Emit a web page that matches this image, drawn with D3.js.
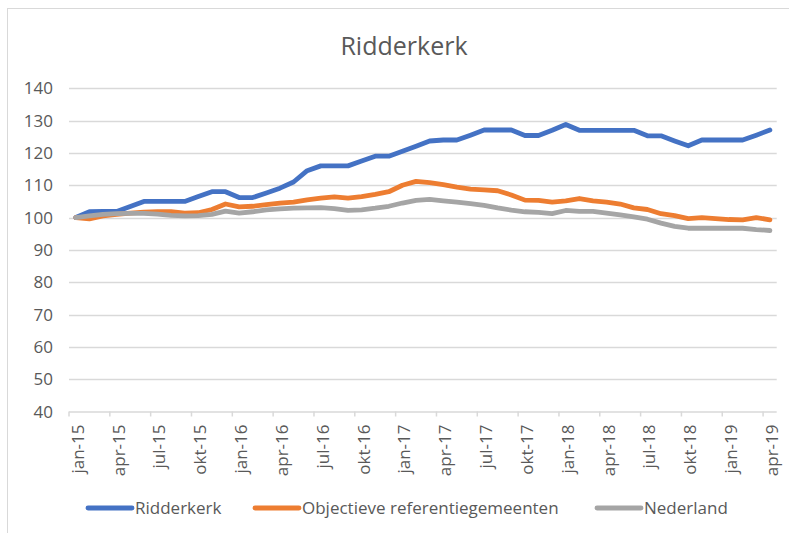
<!DOCTYPE html>
<html>
<head>
<meta charset="utf-8">
<script src="https://cdn.jsdelivr.net/npm/d3@7"></script>
<style>
  html, body { margin: 0; padding: 0; background: #ffffff; }
  svg { display: block; font-family: "Open Sans", "Noto Sans", sans-serif; }
</style>
</head>
<body>
<svg id="chart" width="789" height="533"></svg>
<script>
// Month labels, jan-15 through apr-19
const monthNames = ["jan", "feb", "mrt", "apr", "mei", "jun", "jul", "aug", "sep", "okt", "nov", "dec"];
const years = ["15", "16", "17", "18", "19"];
const categories = [];
years.forEach(y => monthNames.forEach(m => categories.push(m + "-" + y)));
categories.length = 52;

// Index values (jan-15 = 100)
const ridderkerk = [
  100, 101.8, 101.9, 101.9, 103.4, 105, 105, 105, 105, 106.5,
  108, 108, 106.2, 106.2, 107.6, 109.1, 111, 114.5, 116, 116,
  116, 117.5, 119, 119, 120.5, 122.1, 123.7, 124, 124, 125.5,
  127.1, 127.1, 127.1, 125.4, 125.4, 127, 128.8, 127, 127, 127,
  127, 127, 125.3, 125.3, 123.7, 122.2, 124, 124, 124, 124,
  125.5, 127.1
];
const referentie = [
  100, 99.6, 100.5, 101, 101.4, 101.7, 101.8, 101.8, 101.4, 101.5,
  102.5, 104.2, 103.3, 103.5, 104, 104.5, 104.8, 105.5, 106, 106.4,
  106, 106.5, 107.2, 108, 110, 111.2, 110.8, 110.2, 109.4, 108.8,
  108.6, 108.3, 107, 105.4, 105.3, 104.8, 105.2, 105.9, 105.2, 104.8,
  104.2, 103, 102.5, 101.2, 100.6, 99.7, 100, 99.7, 99.4, 99.3,
  100, 99.3
];
const nederland = [
  100, 100.5, 101, 101.2, 101.3, 101.3, 101.1, 100.7, 100.5, 100.6,
  101, 102, 101.4, 101.8, 102.4, 102.7, 102.9, 103, 103.1, 102.8,
  102.2, 102.4, 102.9, 103.5, 104.5, 105.3, 105.6, 105.2, 104.8, 104.3,
  103.8, 103, 102.3, 101.8, 101.6, 101.2, 102.2, 101.9, 101.9, 101.4,
  100.8, 100.2, 99.5, 98.3, 97.3, 96.7, 96.7, 96.7, 96.7, 96.7,
  96.3, 96
];
const seriesNames = ["Ridderkerk", "Objectieve referentiegemeenten", "Nederland"];
const seriesColors = ["#4472C4", "#ED7D31", "#A5A5A5"];
const yTicks = [40, 50, 60, 70, 80, 90, 100, 110, 120, 130, 140];
const xTickLabels = categories.filter((c, i) => i % 3 === 0);

const series = [ridderkerk, referentie, nederland];

const svg = d3.select("#chart");
const textColor = "#595959";
const gridColor = "#D9D9D9";

// Outer chart frame
svg.append("rect")
  .attr("x", 7.5).attr("y", 8.5)
  .attr("width", 900).attr("height", 700)
  .attr("fill", "#ffffff")
  .attr("stroke", gridColor).attr("stroke-width", 1);

const plot = { left: 69, right: 776.7, top: 88.3, bottom: 411.5 };

const x = d3.scaleBand().domain(categories).range([plot.left, plot.right]).padding(0);
const y = d3.scaleLinear().domain([40, 140]).range([plot.bottom, plot.top]);
const bw = x.bandwidth();

// Title
svg.append("text")
  .attr("x", 404).attr("y", 55)
  .attr("text-anchor", "middle")
  .attr("fill", textColor)
  .attr("font-size", 25)
  .text("Ridderkerk");

// Horizontal gridlines
svg.append("g").selectAll("line")
  .data(yTicks.filter(t => t !== 40))
  .join("line")
  .attr("x1", plot.left).attr("x2", plot.right)
  .attr("y1", d => Math.round(y(d)) + 0.5).attr("y2", d => Math.round(y(d)) + 0.5)
  .attr("stroke", gridColor).attr("stroke-width", 1.5);

// Y axis labels
svg.append("g").selectAll("text")
  .data(yTicks)
  .join("text")
  .attr("x", 53).attr("y", d => y(d))
  .attr("dy", "0.36em")
  .attr("text-anchor", "end")
  .attr("fill", textColor)
  .attr("font-size", 17)
  .text(d => d);

// X axis: ticks at the left edge of every third month, labels centred on the month
const xAxis = d3.axisBottom(x)
  .tickValues(xTickLabels)
  .tickSize(5)
  .tickSizeOuter(0);
const gx = svg.append("g")
  .attr("transform", `translate(0,${plot.bottom})`)
  .call(xAxis);
gx.select(".domain")
  .attr("d", `M${plot.left},0.5H${plot.right}`)
  .attr("stroke", gridColor).attr("stroke-width", 1.5);
gx.selectAll(".tick line")
  .attr("x1", -bw / 2).attr("x2", -bw / 2)
  .attr("stroke", gridColor).attr("stroke-width", 1.5);
gx.selectAll(".tick text")
  .attr("fill", textColor)
  .attr("font-size", 17)
  .attr("font-family", "\"Open Sans\", sans-serif")
  .attr("text-anchor", "end")
  .attr("transform", "rotate(-90)")
  .attr("x", -13)
  .attr("y", 2)
  .attr("dy", "0.35em");

// Series lines
const line = d3.line()
  .x((d, i) => x(categories[i]) + bw / 2)
  .y(d => y(d))
  .curve(d3.curveLinear);

svg.append("g").selectAll("path")
  .data(series)
  .join("path")
  .attr("d", d => line(d))
  .attr("fill", "none")
  .attr("stroke", (d, i) => seriesColors[i])
  .attr("stroke-width", 4.8)
  .attr("stroke-linejoin", "round")
  .attr("stroke-linecap", "round");

// Legend
const legendX = [88, 255, 597];
const legend = svg.append("g").selectAll("g")
  .data(seriesNames)
  .join("g")
  .attr("transform", (d, i) => `translate(${legendX[i]},508)`);
legend.append("line")
  .attr("x1", 0).attr("x2", 44)
  .attr("stroke", (d, i) => seriesColors[i])
  .attr("stroke-width", 4.8)
  .attr("stroke-linecap", "round");
legend.append("text")
  .attr("x", 47).attr("dy", "0.36em")
  .attr("fill", textColor)
  .attr("font-size", 17)
  .text(d => d);
</script>
</body>
</html>
